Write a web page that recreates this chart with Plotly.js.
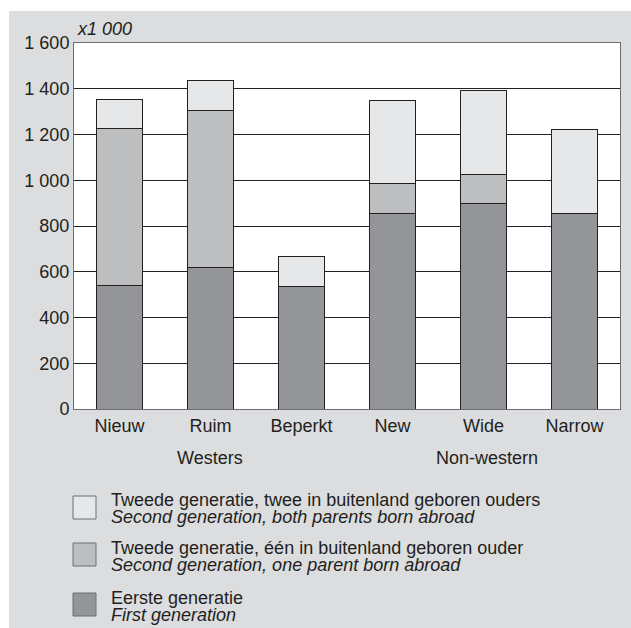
<!DOCTYPE html>
<html>
<head>
<meta charset="utf-8">
<script src="https://cdn.plot.ly/plotly-3.0.1.min.js"></script>
<style>html,body{margin:0;padding:0;background:#fff;}#chart{width:631px;height:628px;}</style>
</head>
<body>
<div id="chart"></div>
<script>
// Data (x 1 000)
var categories = ['Nieuw', 'Ruim', 'Beperkt', 'New', 'Wide', 'Narrow'];
var groupLabels = ['Westers', 'Non-western'];
var firstGeneration = [538, 618, 536, 855, 898, 855];
var secondOneParent = [687, 688, 0, 129, 128, 0];
var secondBothParents = [127, 130, 130, 365, 365, 365];
var yTickVals = [0, 200, 400, 600, 800, 1000, 1200, 1400, 1600];
var yTickText = ['0', '200', '400', '600', '800', '1 000', '1 200', '1 400', '1 600'];
var seriesNames = [
  ['Tweede generatie, twee in buitenland geboren ouders', 'Second generation, both parents born abroad'],
  ['Tweede generatie, één in buitenland geboren ouder', 'Second generation, one parent born abroad'],
  ['Eerste generatie', 'First generation']
];

var W = 631, H = 628;
var M = {l: 74, r: 11, t: 43, b: 219};
var PW = W - M.l - M.r, PH = H - M.t - M.b;
function px(x) { return (x - M.l) / PW; }
function py(y) { return (H - M.b - y) / PH; }

var textColor = '#231f20';
var font = {family: 'Liberation Sans, Arial, sans-serif', size: 18, color: textColor};
var colDark = '#939598', colMid = '#bcbec0', colLight = '#e6e7e8';
var outline = {color: '#231f20', width: 1};

var traces = [
  {type: 'bar', x: categories, y: firstGeneration, name: seriesNames[2][0], marker: {color: colDark, line: outline}},
  {type: 'bar', x: categories, y: secondOneParent, name: seriesNames[1][0], marker: {color: colMid, line: outline}},
  {type: 'bar', x: categories, y: secondBothParents, name: seriesNames[0][0], marker: {color: colLight, line: outline}}
];

var shapes = [
  // white margins top and left (gray panel starts at 9,11)
  {type: 'rect', xref: 'paper', yref: 'paper', x0: px(0), x1: px(9), y0: py(H), y1: py(0), fillcolor: '#ffffff', line: {width: 0}, layer: 'below'},
  {type: 'rect', xref: 'paper', yref: 'paper', x0: px(0), x1: px(W), y0: py(11), y1: py(0), fillcolor: '#ffffff', line: {width: 0}, layer: 'below'}
];
var legendColors = [colLight, colMid, colDark];
var legendBoxes = [[496, 519], [543, 566], [593, 616]];
var legendTextTop = [489, 537, 587];
var annotations = [
  {xref: 'paper', yref: 'paper', x: px(75), y: py(29), xanchor: 'left', yanchor: 'middle', text: '<i>x1 000</i>', showarrow: false, font: font},
  {xref: 'paper', yref: 'paper', x: px(210), y: py(458), xanchor: 'center', yanchor: 'middle', text: groupLabels[0], showarrow: false, font: font},
  {xref: 'paper', yref: 'paper', x: px(487), y: py(458), xanchor: 'center', yanchor: 'middle', text: groupLabels[1], showarrow: false, font: font}
];
// base font 13.1 gives a line pitch of ~17px; the visible text is 18px
var legendFont = {family: font.family, size: 13.1, color: textColor};
for (var i = 0; i < 3; i++) {
  shapes.push({type: 'rect', xref: 'paper', yref: 'paper', x0: px(73), x1: px(96), y0: py(legendBoxes[i][1]), y1: py(legendBoxes[i][0]),
    fillcolor: legendColors[i], line: {color: '#6d6e71', width: 1}});
  annotations.push({xref: 'paper', yref: 'paper', x: px(110), y: py(legendTextTop[i]), xanchor: 'left', yanchor: 'top', align: 'left',
    text: '<span style="font-size:18px">' + seriesNames[i][0] + '</span><br><span style="font-size:18px"><i>' + seriesNames[i][1] + '</i></span>',
    showarrow: false, font: legendFont, borderpad: 0});
}

var layout = {
  width: W, height: H,
  margin: M,
  paper_bgcolor: '#dcdddf',
  plot_bgcolor: '#ffffff',
  barmode: 'stack',
  bargap: 0.495,
  showlegend: false,
  font: font,
  xaxis: {type: 'category', showgrid: false, showline: true, linecolor: '#6d6e71', linewidth: 1, mirror: true,
    ticks: '', tickfont: font, fixedrange: true},
  yaxis: {range: [0, 1600], tickvals: yTickVals, ticktext: yTickText, showgrid: true, gridcolor: '#231f20', gridwidth: 1,
    zeroline: false, showline: true, linecolor: '#6d6e71', linewidth: 1, mirror: true, ticks: '', tickfont: font, fixedrange: true},
  shapes: shapes,
  annotations: annotations
};

Plotly.newPlot('chart', traces, layout, {staticPlot: true, displayModeBar: false});
</script>
</body>
</html>
